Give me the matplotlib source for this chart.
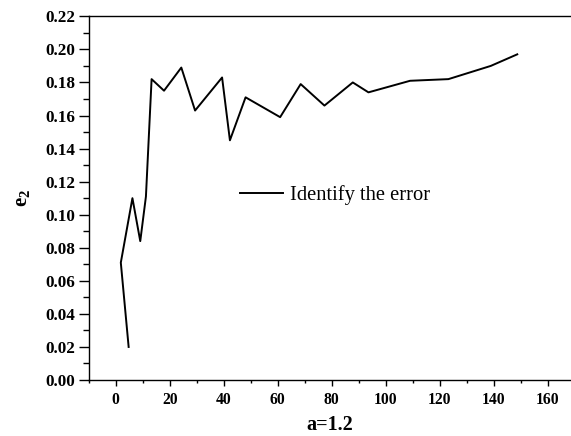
import matplotlib
matplotlib.use('Agg')
import matplotlib.pyplot as plt
from matplotlib.ticker import MultipleLocator

# values (order as drawn)
a_vals = [4.8, 1.9, 6.2, 9.1, 11.2, 13.3, 17.9, 24.3, 29.4, 39.4, 42.3,
          48.1, 60.9, 68.5, 77.3, 87.8, 93.6, 109.0, 123.2, 138.9, 148.7]
e2_vals = [0.020, 0.071, 0.110, 0.084, 0.111, 0.182, 0.175, 0.189, 0.163,
           0.183, 0.145, 0.171, 0.159, 0.179, 0.166, 0.180, 0.174, 0.181,
           0.182, 0.190, 0.197]
series_label = 'Identify the error'

plt.rcParams['font.family'] = ['Liberation Serif', 'DejaVu Serif']
plt.rcParams['mathtext.fontset'] = 'custom'
plt.rcParams['mathtext.rm'] = 'Liberation Serif'
plt.rcParams['mathtext.bf'] = 'Liberation Serif:bold'

fig = plt.figure(figsize=(5.71, 4.36), dpi=100)
ax = fig.add_axes([0.1553, 0.1284, 0.8447, 0.8342])

ax.plot(a_vals, e2_vals, color='black', linewidth=1.4, label=series_label)

ax.set_xlim(-10, 168.6)
ax.set_ylim(0, 0.22)
ax.xaxis.set_major_locator(MultipleLocator(20))
ax.xaxis.set_minor_locator(MultipleLocator(10))
ax.yaxis.set_major_locator(MultipleLocator(0.02))
ax.yaxis.set_minor_locator(MultipleLocator(0.01))
ax.yaxis.set_major_formatter(plt.FormatStrFormatter('%.2f'))

ax.spines['right'].set_visible(False)
for s in ['left', 'bottom', 'top']:
    ax.spines[s].set_linewidth(1.0)

ax.tick_params(axis='x', which='major', direction='out', length=4.5, width=1.0, pad=4)
ax.tick_params(axis='x', which='minor', direction='out', length=2.4, width=1.0)
ax.tick_params(axis='y', which='major', direction='out', length=7.5, width=1.0, pad=2)
ax.tick_params(axis='y', which='minor', direction='out', length=4, width=1.0)
ax.tick_params(top=False, right=False, which='both')

for lbl in ax.get_xticklabels():
    lbl.set_fontweight('bold')
    lbl.set_fontsize(11.3)
for lbl in ax.get_yticklabels():
    lbl.set_fontweight('bold')
    lbl.set_fontsize(12.3)

ax.set_xlabel('a=1.2', fontsize=14.5, fontweight='bold', labelpad=5.5)
ax.set_ylabel(r'$\mathbf{e_2}$', fontsize=15, labelpad=10)

ax.legend(loc='center left', bbox_to_anchor=(0.3137, 0.5087), frameon=False,
          borderaxespad=0, borderpad=0, handlelength=2.1, handletextpad=0.35,
          prop={'family': 'Liberation Serif', 'size': 14.8})

plt.savefig('out.png', dpi=100)
